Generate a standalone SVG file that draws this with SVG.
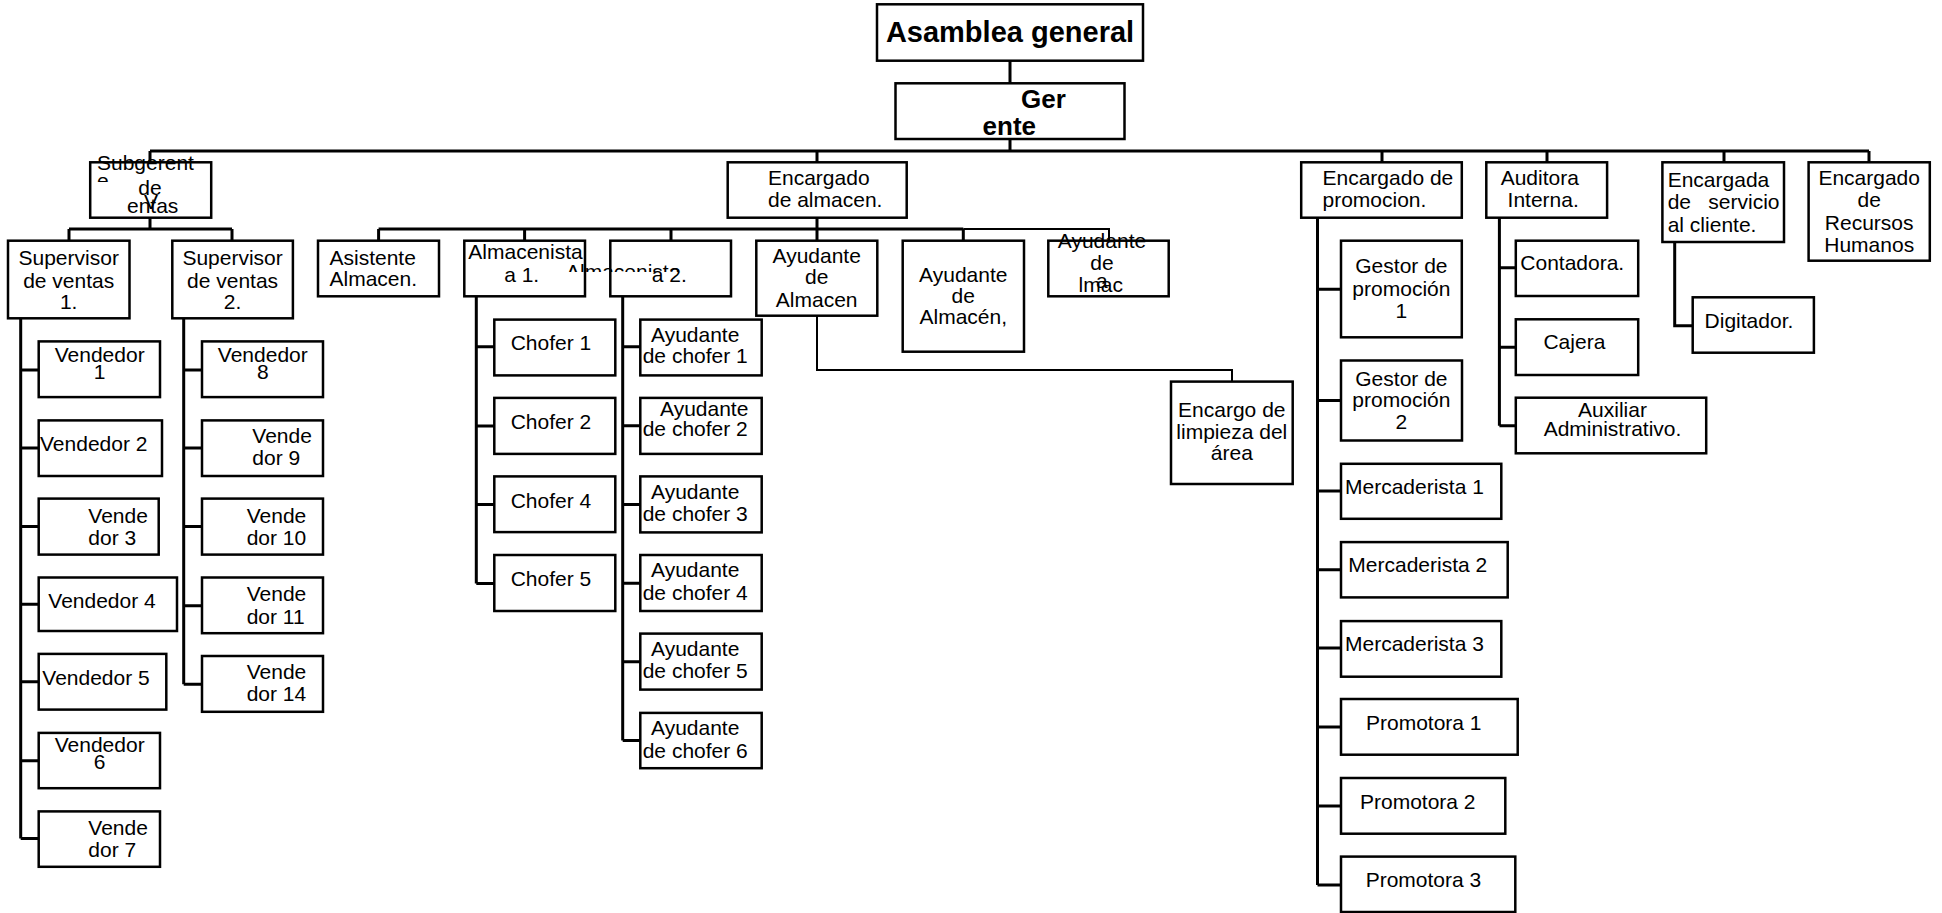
<svg xmlns="http://www.w3.org/2000/svg" width="1942" height="913" viewBox="0 0 1942 913">
<style>
.b{fill:#fff;stroke:#000;stroke-width:2.5}
.l{fill:none;stroke:#000;stroke-width:3}
.n{fill:none;stroke:#000;stroke-width:2}
text{font-family:"Liberation Sans",Arial,Helvetica,sans-serif;font-size:21px;fill:#000}
.c{text-anchor:middle}
.h{font-weight:bold}
</style>
<defs>
<clipPath id="clipAlm2"><rect x="560" y="255" width="120" height="17"/></clipPath>
<clipPath id="clipSub"><rect x="90" y="170" width="20" height="12"/></clipPath>
</defs>
<g id="connectors">
<path class="l" d="M1010 60.7V83.3M1010 139V151M150 151H1869M150 151V162M817 151V162M1382 151V162M1547 151V162M1724 151V162M1869 151V162"/>
<path class="l" d="M150 218V229M69 229H232M69 229V241M232 229V241"/>
<path class="l" d="M20.7 318V838.6M20.7 370H38.7M20.7 447.9H38.7M20.7 526.4H38.7M20.7 604.3H38.7M20.7 681.8H38.7M20.7 760.7H38.7M20.7 838.6H38.7"/>
<path class="l" d="M183.7 318V684.3M183.7 370H202M183.7 447.9H202M183.7 526.4H202M183.7 605.7H202M183.7 684.3H202"/>
<path class="l" d="M817 218V229M378.6 229H963.3M378.6 229V241M524.6 229V241M671 229V241M817 229V241M963.3 229V241"/>
<path class="n" d="M963.3 229H1109V241"/>
<path class="l" d="M476.3 296V583.6M476.3 346.8H494.3M476.3 426H494.3M476.3 504.6H494.3M476.3 583.6H494.3"/>
<path class="l" d="M622.7 296V740.4M622.7 346.8H640.3M622.7 425.7H640.3M622.7 504.6H640.3M622.7 583.2H640.3M622.7 661.8H640.3M622.7 740.4H640.3"/>
<path class="n" d="M817 316V370H1232V381.6"/>
<path class="l" d="M1317.5 217.7V885M1317.5 289.3H1341M1317.5 400.5H1341M1317.5 491.1H1341M1317.5 569.7H1341M1317.5 648H1341M1317.5 727H1341M1317.5 806H1341M1317.5 885H1341"/>
<path class="l" d="M1499.4 217.7V425.7M1499.4 267.7H1515.8M1499.4 347.3H1515.8M1499.4 425.7H1515.8"/>
<path class="l" d="M1674.7 242V325.7H1692.7"/>
</g>
<g id="asamblea"><rect class="b" x="877" y="4.3" width="266" height="56.4"/><text class="c h" x="1010" y="41.7" style="font-size:29px">Asamblea general</text></g>
<g id="gerente"><rect class="b" x="895.5" y="83.3" width="229" height="55.7"/><text class="h" x="1021" y="108" style="font-size:26px">Ger</text><text class="h" x="982.6" y="135" style="font-size:26px">ente</text></g>
<g id="subgerente"><rect class="b" x="90.2" y="162.3" width="121" height="55.4"/><text x="97" y="170">Subgerent</text><text x="97" y="188" clip-path="url(#clipSub)">e</text><text class="c" x="150" y="195">de</text><text class="c" x="151" y="209">V</text><text x="127" y="213">entas</text></g>
<g id="sup1"><rect class="b" x="8" y="240.7" width="121.5" height="77.6"/><text class="c" x="68.7" y="265">Supervisor</text><text class="c" x="68.7" y="287.7">de ventas</text><text class="c" x="68.7" y="309">1.</text></g>
<g id="sup2"><rect class="b" x="172.3" y="240.7" width="120.6" height="77.6"/><text class="c" x="232.6" y="265">Supervisor</text><text class="c" x="232.6" y="287.7">de ventas</text><text class="c" x="232.6" y="309">2.</text></g>
<g id="v1"><rect class="b" x="38.7" y="341.4" width="121.3" height="55.7"/><text class="c" x="99.7" y="361.8">Vendedor</text><text class="c" x="99.7" y="378.9">1</text></g>
<g id="v2"><rect class="b" x="38.7" y="420.4" width="123.3" height="55.6"/><text x="40" y="451.4">Vendedor 2</text></g>
<g id="v3"><rect class="b" x="38.7" y="498.6" width="120" height="56"/><text x="88.3" y="522.9">Vende</text><text x="88.3" y="545">dor 3</text></g>
<g id="v4"><rect class="b" x="38.7" y="577.5" width="138.3" height="53.5"/><text x="48.3" y="607.5">Vendedor 4</text></g>
<g id="v5"><rect class="b" x="38.7" y="653.9" width="127.6" height="55.7"/><text x="42.3" y="685">Vendedor 5</text></g>
<g id="v6"><rect class="b" x="38.7" y="732.9" width="121.3" height="55.3"/><text class="c" x="99.7" y="752.1">Vendedor</text><text class="c" x="99.7" y="769.3">6</text></g>
<g id="v7"><rect class="b" x="38.7" y="811.4" width="121.3" height="55.4"/><text x="88.3" y="835.4">Vende</text><text x="88.3" y="856.8">dor 7</text></g>
<g id="v8"><rect class="b" x="202" y="341.4" width="121" height="55.7"/><text class="c" x="262.8" y="361.8">Vendedor</text><text class="c" x="262.8" y="378.9">8</text></g>
<g id="v9"><rect class="b" x="202" y="420.4" width="121" height="55.6"/><text x="252.3" y="443.2">Vende</text><text x="252.3" y="464.6">dor 9</text></g>
<g id="v10"><rect class="b" x="202" y="498.6" width="121" height="56"/><text x="246.7" y="522.9">Vende</text><text x="246.7" y="545">dor 10</text></g>
<g id="v11"><rect class="b" x="202" y="577.5" width="121" height="55.7"/><text x="246.7" y="601.4">Vende</text><text x="246.7" y="623.6">dor 11</text></g>
<g id="v14"><rect class="b" x="202" y="656" width="121" height="55.8"/><text x="246.7" y="678.9">Vende</text><text x="246.7" y="701.4">dor 14</text></g>
<g id="enc-almacen"><rect class="b" x="727.7" y="162.3" width="179" height="55.4"/><text x="768" y="185">Encargado</text><text x="768" y="207.3">de almacen.</text></g>
<g id="asistente"><rect class="b" x="318" y="240.7" width="121" height="55.6"/><text x="329.5" y="265">Asistente</text><text x="329.5" y="286">Almacen.</text></g>
<g id="alm1"><rect class="b" x="464.3" y="240.7" width="120.7" height="55.6"/><text x="468.3" y="259">Almacenista</text><text class="c" x="521.7" y="281.7">a 1.</text></g>
<g id="alm2"><rect class="b" x="610.3" y="240.7" width="120.7" height="55.6"/><text x="566" y="279" clip-path="url(#clipAlm2)">Almacenista</text><text x="651.7" y="281.7">a 2.</text></g>
<g id="ayud-almacen"><rect class="b" x="756.3" y="240.7" width="121" height="75"/><text class="c" x="816.7" y="262.5">Ayudante</text><text class="c" x="816.7" y="284">de</text><text class="c" x="816.7" y="306.5">Almacen</text></g>
<g id="ayud-almacen2"><rect class="b" x="902.7" y="240.7" width="121.3" height="111"/><text class="c" x="963.3" y="281.7">Ayudante</text><text class="c" x="963.3" y="303.3">de</text><text class="c" x="963.3" y="324">Almacén,</text></g>
<g id="ayud-lmac"><rect class="b" x="1048.3" y="240.7" width="120.4" height="55.6"/><text class="c" x="1102" y="248">Ayudante</text><text class="c" x="1102" y="270">de</text><text x="1078.6" y="291.7">lmac</text><text x="1096" y="287.5">a</text></g>
<g id="limpieza"><rect class="b" x="1171" y="381.6" width="121.7" height="102.4"/><text class="c" x="1231.8" y="417.1">Encargo de</text><text class="c" x="1231.8" y="438.7">limpieza del</text><text class="c" x="1231.8" y="459.5">área</text></g>
<g id="chofer1"><rect class="b" x="494.3" y="319.6" width="121" height="55.8"/><text x="510.7" y="350.4">Chofer 1</text></g>
<g id="chofer2"><rect class="b" x="494.3" y="397.9" width="121" height="56"/><text x="510.7" y="429">Chofer 2</text></g>
<g id="chofer4"><rect class="b" x="494.3" y="476.4" width="121" height="55.7"/><text x="510.7" y="507.5">Chofer 4</text></g>
<g id="chofer5"><rect class="b" x="494.3" y="555" width="121" height="56"/><text x="510.7" y="586">Chofer 5</text></g>
<g id="ach1"><rect class="b" x="640.3" y="319.6" width="121.4" height="55.8"/><text x="651" y="341.5">Ayudante</text><text x="642.7" y="363">de chofer 1</text></g>
<g id="ach2"><rect class="b" x="640.3" y="397.9" width="121.4" height="56"/><text x="660" y="416">Ayudante</text><text x="642.7" y="435.5">de chofer 2</text></g>
<g id="ach3"><rect class="b" x="640.3" y="476.4" width="121.4" height="56"/><text x="651" y="498.5">Ayudante</text><text x="642.7" y="521">de chofer 3</text></g>
<g id="ach4"><rect class="b" x="640.3" y="555" width="121.4" height="56"/><text x="651" y="577">Ayudante</text><text x="642.7" y="599.6">de chofer 4</text></g>
<g id="ach5"><rect class="b" x="640.3" y="633.6" width="121.4" height="56"/><text x="651" y="655.6">Ayudante</text><text x="642.7" y="678.2">de chofer 5</text></g>
<g id="ach6"><rect class="b" x="640.3" y="712.9" width="121.4" height="55.3"/><text x="651" y="734.9">Ayudante</text><text x="642.7" y="757.5">de chofer 6</text></g>
<g id="enc-promocion"><rect class="b" x="1301.2" y="162.3" width="160.6" height="55.4"/><text x="1322.5" y="185">Encargado de</text><text x="1322.5" y="206.7">promocion.</text></g>
<g id="gestor1"><rect class="b" x="1341" y="240.7" width="120.8" height="96.6"/><text class="c" x="1401.4" y="273.3">Gestor de</text><text class="c" x="1401.4" y="296">promoción</text><text class="c" x="1401.4" y="317.7">1</text></g>
<g id="gestor2"><rect class="b" x="1341" y="360.5" width="121" height="80"/><text class="c" x="1401.4" y="385.5">Gestor de</text><text class="c" x="1401.4" y="407.2">promoción</text><text class="c" x="1401.4" y="428.7">2</text></g>
<g id="merc1"><rect class="b" x="1341" y="463.8" width="160.3" height="55"/><text x="1345" y="493.6">Mercaderista 1</text></g>
<g id="merc2"><rect class="b" x="1341" y="542.1" width="166.7" height="55.3"/><text x="1348.3" y="571.5">Mercaderista 2</text></g>
<g id="merc3"><rect class="b" x="1341" y="621.1" width="160.3" height="55.6"/><text x="1345" y="651">Mercaderista 3</text></g>
<g id="prom1"><rect class="b" x="1341" y="699" width="176.7" height="55.7"/><text x="1366" y="729.9">Promotora 1</text></g>
<g id="prom2"><rect class="b" x="1341" y="778" width="164.3" height="55.7"/><text x="1360" y="808.9">Promotora 2</text></g>
<g id="prom3"><rect class="b" x="1341" y="856.6" width="174.3" height="55.4"/><text x="1365.7" y="886.8">Promotora 3</text></g>
<g id="auditora"><rect class="b" x="1486.3" y="162.3" width="120.8" height="55.4"/><text x="1500.7" y="185">Auditora</text><text x="1507.6" y="206.7">Interna.</text></g>
<g id="contadora"><rect class="b" x="1515.8" y="240.7" width="122.4" height="55.3"/><text x="1520.3" y="270">Contadora.</text></g>
<g id="cajera"><rect class="b" x="1515.8" y="319.3" width="122.4" height="55.7"/><text class="c" x="1574.4" y="349.3">Cajera</text></g>
<g id="auxiliar"><rect class="b" x="1515.8" y="397.7" width="190.4" height="55.6"/><text class="c" x="1612.5" y="416.7">Auxiliar</text><text class="c" x="1612.5" y="435.7">Administrativo.</text></g>
<g id="servicio"><rect class="b" x="1662.4" y="162.3" width="121.6" height="79.7"/><text x="1667.7" y="186.7">Encargada</text><text x="1667.7" y="209.3">de</text><text x="1779.5" y="209.3" text-anchor="end">servicio</text><text x="1667.7" y="231.7">al cliente.</text></g>
<g id="digitador"><rect class="b" x="1692.7" y="297.3" width="121.2" height="55.4"/><text x="1704.6" y="328.3">Digitador.</text></g>
<g id="rrhh"><rect class="b" x="1808.6" y="162.3" width="121.2" height="98.4"/><text class="c" x="1869.2" y="185">Encargado</text><text class="c" x="1869.2" y="207">de</text><text class="c" x="1869.2" y="229.5">Recursos</text><text class="c" x="1869.2" y="251.5">Humanos</text></g>
</svg>
